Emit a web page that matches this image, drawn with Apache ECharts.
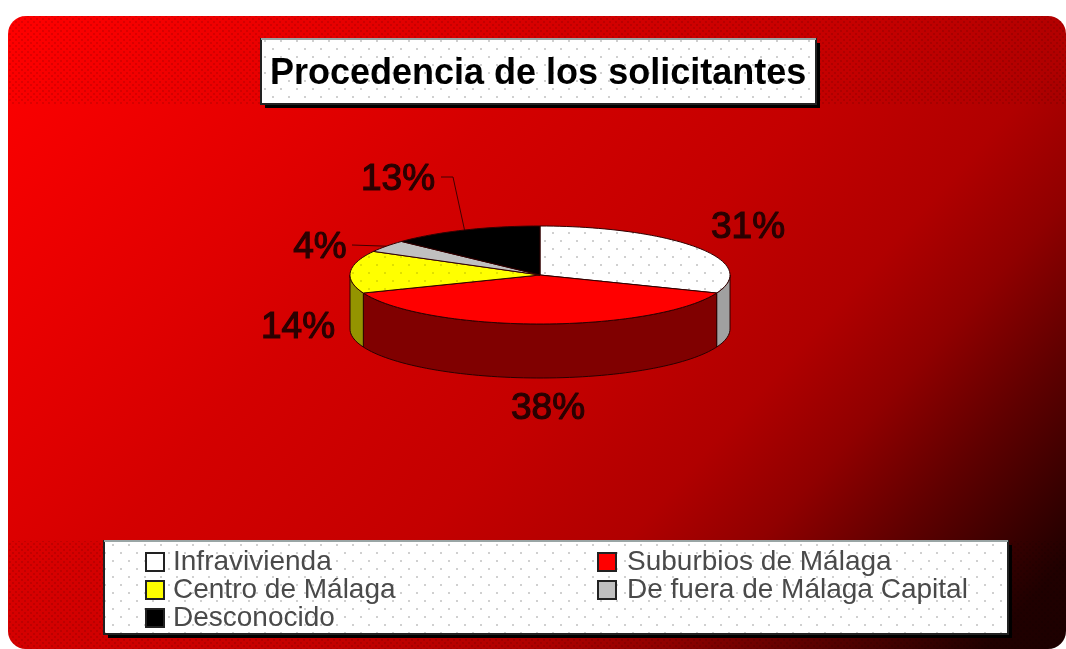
<!DOCTYPE html>
<html>
<head>
<meta charset="utf-8">
<style>html,body{margin:0;padding:0;background:#fff}#c{width:1066px;height:649px;filter:blur(0.55px)}</style>
<script src="https://cdn.jsdelivr.net/npm/echarts@6/dist/echarts.min.js"></script>
</head>
<body>
<div id="c"></div>
<script>
const chartTitle = 'Procedencia de los solicitantes';
const categories = ['Infravivienda', 'Suburbios de Málaga', 'Centro de Málaga', 'De fuera de Málaga Capital', 'Desconocido'];
const values = [31, 38, 14, 4, 13];
const topColors = ['#ffffff', '#ff0000', '#ffff00', '#c0c0c0', '#000000'];
const wallColors = ['#a0a0a0', '#800000', '#949400', '#606060', '#000000'];

const PIE = {cx: 540, cy: 275, rx: 190, ry: 49, depth: 54};
const LABELS = [
  {x: 748, y: 228},
  {x: 548, y: 409},
  {x: 298, y: 328},
  {x: 320, y: 248, lead: [[352, 245]]},
  {x: 398, y: 180, lead: [[441, 177], [453, 177]]}
];
const total = values.reduce((a, b) => a + b, 0);
const starts = values.map((_, i) => values.slice(0, i).reduce((a, b) => a + b, 0) / total * 360);

function dots(bg, dot, size, r) {
  const cv = document.createElement('canvas');
  cv.width = cv.height = size;
  const g = cv.getContext('2d');
  if (bg) { g.fillStyle = bg; g.fillRect(0, 0, size, size); }
  g.fillStyle = dot;
  g.fillRect(0, 0, r, r);
  g.fillRect(size / 2, size / 2, r, r);
  return {image: cv, repeat: 'repeat'};
}
const whiteDots = dots('#ffffff', '#d0d0d0', 16, 2);
const yellowDots = dots('#ffff00', '#e0e000', 16, 2);
const bgDots = dots(null, 'rgba(0,0,0,0.11)', 6, 2);

function pt(deg, dy) {
  const a = deg * Math.PI / 180;
  return [PIE.cx + PIE.rx * Math.sin(a), PIE.cy - PIE.ry * Math.cos(a) + (dy || 0)];
}
function arc(from, to, dy) {
  const out = [];
  const n = Math.max(2, Math.ceil((to - from) / 2));
  for (let k = 0; k <= n; k++) out.push(pt(from + (to - from) * k / n, dy));
  return out;
}
function renderSlice(i) {
  return function () {
    const from = starts[i], to = from + values[i] / total * 360;
    const children = [];
    const wf = Math.max(from, 90), wt = Math.min(to, 270);
    if (wt > wf) {
      children.push({
        type: 'polygon',
        shape: {points: arc(wf, wt, 0).concat(arc(wf, wt, PIE.depth).reverse())},
        style: {fill: wallColors[i], stroke: '#2a0000', lineWidth: 1}
      });
    }
    let fill = topColors[i];
    if (i === 0) fill = whiteDots;
    if (i === 2) fill = yellowDots;
    children.push({
      type: 'polygon',
      shape: {points: [[PIE.cx, PIE.cy]].concat(arc(from, to, 0))},
      style: {fill: fill, stroke: '#300000', lineWidth: 1}
    });
    const l = LABELS[i];
    if (l.lead) {
      children.push({
        type: 'polyline',
        shape: {points: l.lead.concat([pt((from + to) / 2, 0)])},
        style: {fill: null, stroke: '#400000', lineWidth: 1}
      });
    }
    children.push({
      type: 'text',
      style: {
        x: l.x, y: l.y, text: values[i] + '%', align: 'center', verticalAlign: 'middle',
        font: '37px "Liberation Sans", Arial, sans-serif', fill: '#2a0000',
        stroke: '#2a0000', lineWidth: 1.2
      }
    });
    return {type: 'group', children: children};
  };
}

function box(x, y, w, h) {
  return [
    {type: 'rect', z: -5, shape: {x: x + 4, y: y + 4, width: w, height: h}, style: {fill: '#000'}},
    {type: 'rect', z: -4, shape: {x: x, y: y, width: w, height: h}, style: {fill: whiteDots, stroke: '#222', lineWidth: 2}},
    {type: 'line', z: -3, shape: {x1: x, y1: y, x2: x + w, y2: y}, style: {stroke: '#9aa5a5', lineWidth: 2}}
  ];
}

const legendFont = {fontFamily: '"Liberation Sans", Arial, sans-serif', fontSize: 28, color: '#4a4a4a'};
const chart = echarts.init(document.getElementById('c'), null, {renderer: 'canvas'});
chart.setOption({
  animation: false,
  title: {
    text: chartTitle, left: 265, top: 51,
    textStyle: {fontFamily: '"Liberation Sans", Arial, sans-serif', fontWeight: 'bold', fontSize: 36, color: '#000'}
  },
  legend: [
    {
      orient: 'vertical', left: 140, top: 543, itemWidth: 18, itemHeight: 18, itemGap: 0, selectedMode: false,
      icon: 'rect', data: [categories[0], categories[2], categories[4]],
      itemStyle: {borderColor: '#222', borderWidth: 2},
      textStyle: Object.assign({padding: [0, 0, 0, 4]}, legendFont)
    },
    {
      orient: 'vertical', left: 592, top: 543, itemWidth: 18, itemHeight: 18, itemGap: 0, selectedMode: false,
      icon: 'rect', data: [categories[1], categories[3]],
      itemStyle: {borderColor: '#222', borderWidth: 2},
      textStyle: Object.assign({padding: [0, 0, 0, 6]}, legendFont)
    }
  ],
  graphic: {
    elements: [
      {
        type: 'rect', z: -10, shape: {x: 8, y: 16, width: 1058, height: 633, r: 18},
        style: {
          fill: new echarts.graphic.LinearGradient(0, 0, 1, 1.5, [
            {offset: 0, color: '#ff0000'},
            {offset: 0.22, color: '#e00000'},
            {offset: 0.30, color: '#d40000'},
            {offset: 0.46, color: '#c40000'},
            {offset: 0.57, color: '#b00000'},
            {offset: 0.64, color: '#900000'},
            {offset: 0.71, color: '#600000'},
            {offset: 0.81, color: '#200000'},
            {offset: 1, color: '#100000'}
          ])
        }
      },
      {type: 'rect', z: -9, shape: {x: 8, y: 16, width: 1058, height: 88, r: [18, 18, 0, 0]}, style: {fill: bgDots}},
      {type: 'rect', z: -9, shape: {x: 8, y: 541, width: 1058, height: 108, r: [0, 0, 18, 18]}, style: {fill: bgDots}}
    ].concat(box(261, 39, 555, 65), box(104, 541, 904, 93))
  },
  series: categories.map((name, i) => ({
    type: 'custom',
    name: name,
    coordinateSystem: 'none',
    silent: true,
    itemStyle: {color: topColors[i]},
    data: [values[i]],
    renderItem: renderSlice(i)
  }))
});
</script>
</body>
</html>
